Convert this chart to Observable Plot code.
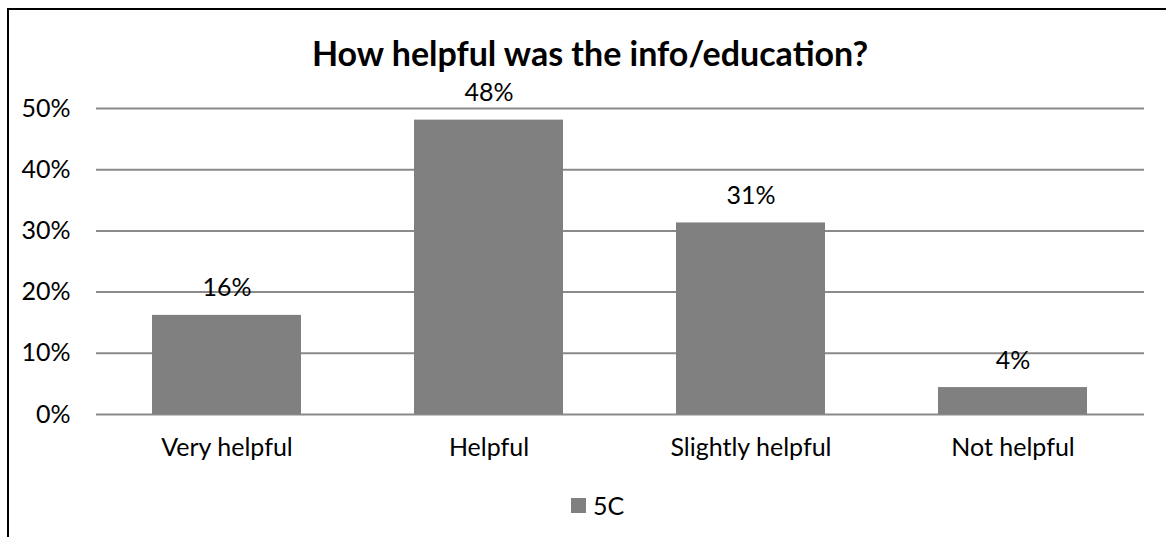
<!DOCTYPE html>
<html>
<head>
<meta charset="utf-8">
<script src="https://cdn.jsdelivr.net/npm/d3@7"></script>
<script src="https://cdn.jsdelivr.net/npm/@observablehq/plot@0.6"></script>
<style>
  html, body { margin: 0; padding: 0; background: #fff; overflow: hidden; }
  body { width: 1166px; height: 537px; position: relative; font-family: Lato, "Open Sans", sans-serif; }
  #frame { position: absolute; left: 7px; top: 8px; width: 1200px; height: 600px; border-left: 2px solid #000; border-top: 2px solid #000; }
  #title { position: absolute; left: 0; width: 1180px; top: 33px; text-align: center; font-weight: bold; font-size: 34px; color: #000; line-height: 40px; }
  #chart { position: absolute; left: 0; top: 80px; }
  #legend { position: absolute; left: 571px; top: 490px; font-size: 25px; color: #000; display: flex; align-items: center; line-height: 30px; }
  #legend .sw { width: 15px; height: 15px; background: #808080; margin-right: 7px; }
</style>
</head>
<body>
<div id="frame"></div>
<div id="title">How helpful was the info/education?</div>
<div id="chart"></div>
<div id="legend"><span class="sw"></span><span>5C</span></div>
<script>
const categories = ["Very helpful", "Helpful", "Slightly helpful", "Not helpful"];
const values = [0.162, 0.481, 0.313, 0.044];
const labels = ["16%", "48%", "31%", "4%"];
const yTicks = [0, 0.1, 0.2, 0.3, 0.4, 0.5];
const seriesName = "5C";

const data = categories.map((c, i) => ({category: c, value: values[i], label: labels[i], series: seriesName}));

const chart = Plot.plot({
  width: 1166,
  height: 400,
  marginLeft: 96,
  marginRight: 22,
  marginTop: 28,
  marginBottom: 66,
  style: {fontFamily: "Lato, 'Open Sans', sans-serif", fontSize: "25px", color: "#000", background: "transparent", overflow: "visible"},
  x: {domain: categories, paddingInner: 0.43, paddingOuter: 0.215, label: null},
  y: {domain: [0, 0.5], label: null},
  marks: [
    Plot.gridY(yTicks, {stroke: "#8a8a8a", strokeOpacity: 1, strokeWidth: 2}),
    Plot.barY(data, {x: "category", y: "value", fill: "#808080"}),
    Plot.text(data, {x: "category", y: "value", text: "label", dy: -27, fontSize: 25, fill: "#000"}),
    Plot.axisY(yTicks, {tickFormat: d3.format(".0%"), tickSize: 0, tickPadding: 26, fontSize: 25, label: null}),
    Plot.axisX({tickSize: 0, tickPadding: 24, fontSize: 25, label: null})
  ]
});
document.getElementById("chart").appendChild(chart);
</script>
</body>
</html>
